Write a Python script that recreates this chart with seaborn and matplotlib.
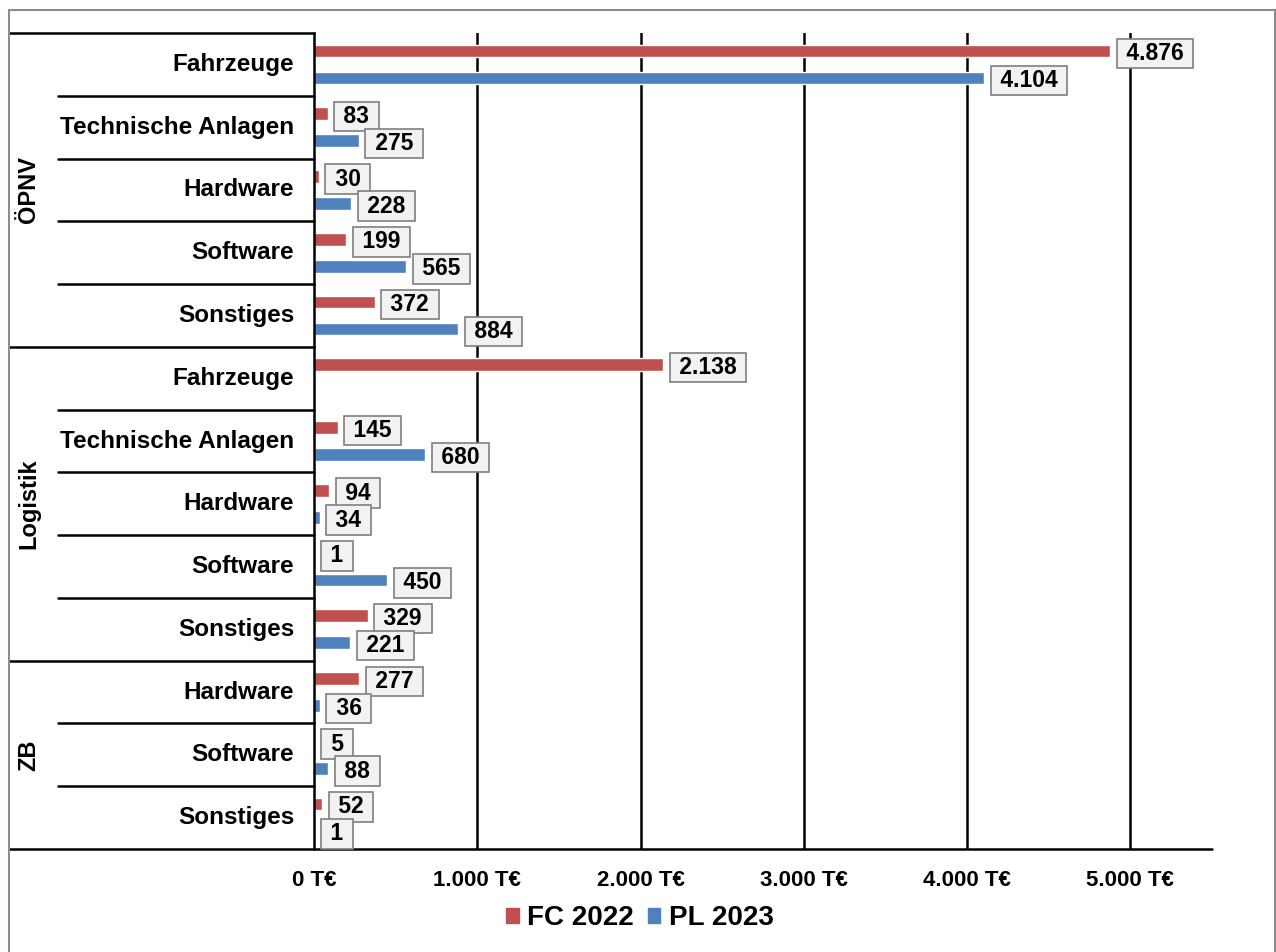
import matplotlib.pyplot as plt
import matplotlib.patches as mpatches
import numpy as np
import pandas as pd
import seaborn as sns

# data
groups = ["ÖPNV"] * 5 + ["Logistik"] * 5 + ["ZB"] * 3
items = ["Fahrzeuge", "Technische Anlagen", "Hardware", "Software", "Sonstiges",
         "Fahrzeuge", "Technische Anlagen", "Hardware", "Software", "Sonstiges",
         "Hardware", "Software", "Sonstiges"]
fc_2022 = [4876, 83, 30, 199, 372, 2138, 145, 94, 1, 329, 277, 5, 52]
pl_2023 = [4104, 275, 228, 565, 884, np.nan, 680, 34, 450, 221, 36, 88, 1]
series = ["FC 2022", "PL 2023"]
colors = ["#C0504D", "#4F81BD"]
xticks = [0, 1000, 2000, 3000, 4000, 5000]

keys = [f"{g}|{i}" for g, i in zip(groups, items)]
df = pd.DataFrame({
    "key": keys * 2,
    "series": [series[0]] * len(keys) + [series[1]] * len(keys),
    "value": fc_2022 + pl_2023,
})

sns.set_style("white")
plt.rcParams["font.family"] = ["Liberation Sans", "DejaVu Sans"]
plt.rcParams["font.weight"] = "bold"
plt.rcParams["text.color"] = "black"
plt.rcParams["xtick.color"] = "black"

fig = plt.figure(figsize=(12.76, 9.52), dpi=100)
ax = fig.add_axes([314 / 1276, 1 - 849 / 952, (1212 - 314) / 1276, (849 - 33) / 952])

sns.barplot(data=df, y="key", x="value", hue="series", order=keys,
            hue_order=series, palette=colors, orient="h", width=0.86, gap=0.53,
            saturation=1, ax=ax, legend=False)

ax.set_xlim(0, 5500)
ax.set_ylim(len(keys) - 0.5, -0.5)
ax.set_xlabel("")
ax.set_ylabel("")
ax.set_yticks([])
ax.set_xticks(xticks)
ax.set_xticklabels([f"{v:,}".replace(",", ".") + " T€" for v in xticks],
                   fontsize=16, fontweight="bold", color="black")
ax.tick_params(axis="x", length=0, pad=15)
for x in xticks[1:]:
    ax.axvline(x, color="black", lw=1.8, zorder=0)

for side in ["top", "right"]:
    ax.spines[side].set_visible(False)
ax.spines["left"].set_color("black")
ax.spines["left"].set_linewidth(1.8)
ax.spines["bottom"].set_visible(False)

# value boxes
for cont in ax.containers:
    for bar in cont:
        w = bar.get_width()
        if np.isnan(w):
            continue
        yc = bar.get_y() + bar.get_height() / 2
        ax.annotate(" " + f"{int(round(w)):,}".replace(",", ".") + " ",
                    xy=(w, yc), xytext=(7, -2), textcoords="offset points",
                    ha="left", va="center", fontsize=16.5, fontweight="bold",
                    color="black",
                    bbox=dict(boxstyle="square,pad=0.14", fc="#F2F2F2",
                              ec="#7F7F7F", lw=1.2))

# category and group labels with separator lines
trans = ax.get_yaxis_transform()
x_item = (58 - 314) / (1212 - 314)
x_group = (9 - 314) / (1212 - 314)
for k, item in enumerate(items):
    ax.text(-0.022, k, item, transform=trans, ha="right", va="center",
            fontsize=17.5, fontweight="bold", color="black")
    if k > 0 and groups[k] == groups[k - 1]:
        ax.plot([x_item, 0], [k - 0.5, k - 0.5], transform=trans,
                color="black", lw=1.8, clip_on=False)

bounds = [0]
for k in range(1, len(groups)):
    if groups[k] != groups[k - 1]:
        bounds.append(k)
bounds.append(len(groups))
for b in bounds:
    x1 = 1.0 if b == len(groups) else 0
    ax.plot([x_group, x1], [b - 0.5, b - 0.5], transform=trans,
            color="black", lw=1.8, clip_on=False)
for s, e in zip(bounds[:-1], bounds[1:]):
    ax.text(-0.318, (s + e - 1) / 2, groups[s], transform=trans, rotation=90,
            ha="center", va="center", fontsize=17, fontweight="bold", color="black")

handles = [mpatches.Patch(color=c, label=s) for c, s in zip(colors, series)]
fig.legend(handles=handles, loc="center", bbox_to_anchor=(640 / 1276, 1 - 918 / 952),
           ncol=2, frameon=False, handlelength=0.45, handleheight=0.45,
           handletextpad=0.3, columnspacing=0.5,
           prop={"size": 20, "weight": "bold"})

fig.patches.append(mpatches.Rectangle((9 / 1276, -0.01), 1266 / 1276, 1 - 10 / 952 + 0.01,
                                      transform=fig.transFigure, fill=False,
                                      ec="#8C8C8C", lw=1.5))

fig.savefig("out.png", dpi=100)
